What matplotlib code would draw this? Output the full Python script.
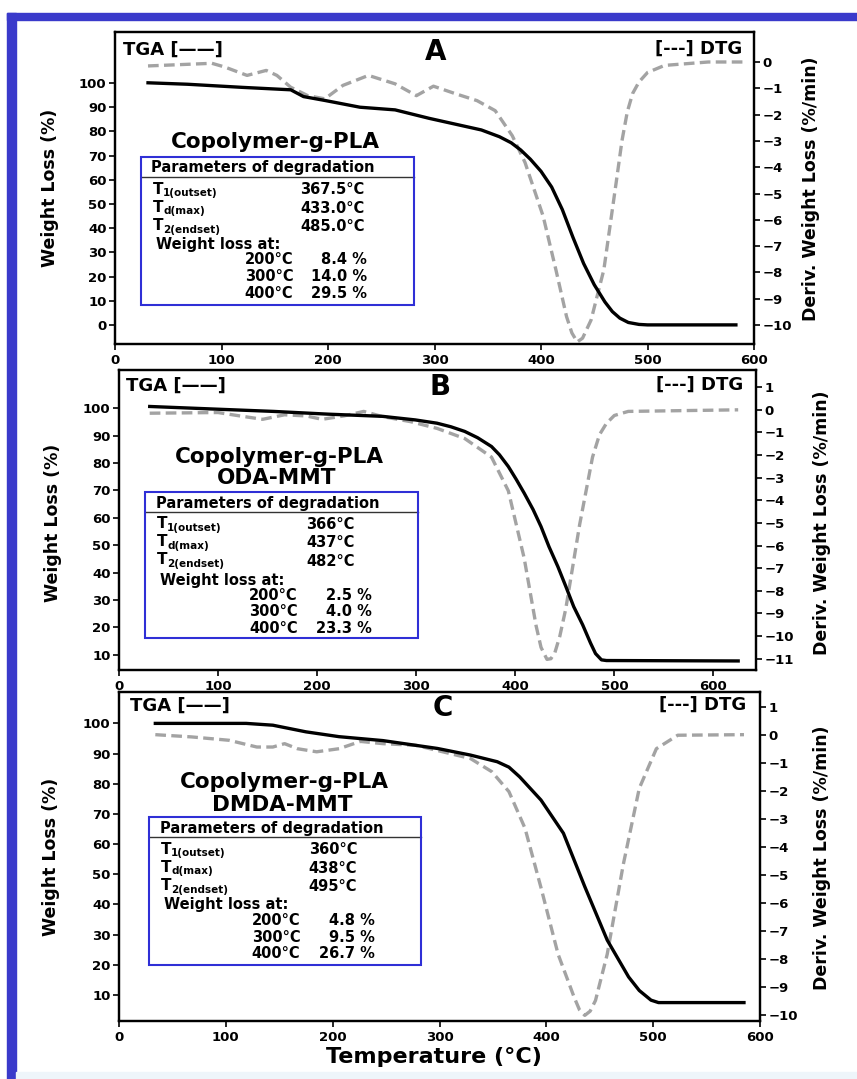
import matplotlib
matplotlib.use('Agg')
import matplotlib.pyplot as plt
from matplotlib.patches import Rectangle
from matplotlib.lines import Line2D

plt.rcParams['font.family'] = ['DejaVu Sans']
plt.rcParams['font.weight'] = 'bold'

# ---- data ----
# panel A : Copolymer-g-PLA
tga_a_t = [31, 68, 120, 165, 177, 197, 230, 263, 295, 344, 361, 372, 381, 390, 400, 410, 420, 430, 440,
           450, 460, 467, 474, 482, 492, 500, 583]
tga_a_w = [100.1, 99.5, 98.2, 97.2, 94.4, 92.8, 90.0, 88.9, 85.4, 80.6, 77.8, 75.3, 72.3, 68.5, 63.5, 57.0,
           47.7, 36.2, 25.4, 16.6, 9.5, 5.5, 2.8, 1.0, 0.2, 0.0, 0.0]
dtg_a_t = [31, 91, 103, 124, 142, 152, 165, 181, 197, 214, 238, 263, 283, 299, 320, 340, 357, 373, 385, 402,
           414, 424, 429, 434, 439, 447, 459, 471, 476, 481, 486, 492, 500, 516, 557, 590]
dtg_a_d = [-0.15, -0.05, -0.19, -0.51, -0.32, -0.51, -0.96, -1.28, -1.40, -0.89, -0.51, -0.83, -1.28, -0.92,
           -1.21, -1.47, -1.85, -2.80, -3.82, -5.86, -7.90, -9.68, -10.3, -10.64, -10.5, -9.81, -7.90, -4.46,
           -3.0, -1.90, -1.2, -0.76, -0.4, -0.13, 0.0, 0.0]

# panel B : Copolymer-g-PLA ODA-MMT
tga_b_t = [31, 100, 156, 211, 266, 299, 321, 335, 349, 362, 376, 384, 393, 401, 409, 418, 426, 434, 443,
           451, 459, 468, 476, 481, 487, 492, 625]
tga_b_w = [100.6, 99.6, 98.8, 97.8, 97.0, 95.7, 94.5, 93.2, 91.5, 89.2, 86.0, 83.0, 78.7, 74.0, 69.0, 63.0,
           56.8, 49.5, 42.2, 35.0, 27.6, 21.0, 14.3, 10.5, 8.2, 7.95, 7.8]
dtg_b_t = [31, 100, 122, 145, 167, 189, 205, 227, 247, 266, 294, 321, 349, 376, 393, 409, 421, 426, 432, 436,
           440, 445, 451, 465, 478, 485, 492, 500, 514, 625]
dtg_b_d = [-0.15, -0.12, -0.27, -0.42, -0.22, -0.27, -0.42, -0.27, -0.07, -0.30, -0.52, -0.82, -1.27, -2.09,
           -3.58, -6.56, -9.54, -10.5, -11.03, -11.0, -10.73, -10.0, -8.79, -5.07, -2.09, -1.1, -0.60, -0.25,
           -0.07, 0.0]

# panel C : Copolymer-g-PLA DMDA-MMT
tga_c_t = [34, 119, 144, 175, 206, 247, 298, 329, 354, 365, 375, 395, 416, 436, 457, 477, 487, 498, 505, 585]
tga_c_w = [100.0, 100.0, 99.4, 97.2, 95.6, 94.3, 91.7, 89.5, 87.3, 85.5, 82.3, 74.6, 63.6, 45.9, 28.2, 16.0,
           11.5, 8.3, 7.5, 7.5]
dtg_c_t = [34, 68, 103, 129, 144, 155, 167, 185, 206, 226, 247, 278, 303, 329, 349, 365, 380, 395, 411,
           426, 431, 436, 441, 446, 457, 472, 487, 503, 523, 585]
dtg_c_d = [0.0, -0.08, -0.20, -0.44, -0.44, -0.32, -0.50, -0.61, -0.50, -0.24, -0.32, -0.38, -0.61, -0.85,
           -1.32, -2.03, -3.33, -5.45, -7.82, -9.35, -9.8, -10.0, -9.85, -9.47, -7.82, -4.63, -1.91, -0.50,
           -0.02, 0.0]

letters = ['A', 'B', 'C']
titles = [['Copolymer-g-PLA'], ['Copolymer-g-PLA', 'ODA-MMT'], ['Copolymer-g-PLA', 'DMDA-MMT']]
param_subs = ['1(outset)', 'd(max)', '2(endset)']
t_outset = ['367.5°C', '366°C', '360°C']
t_dmax = ['433.0°C', '437°C', '438°C']
t_endset = ['485.0°C', '482°C', '495°C']
loss_temps = ['200°C', '300°C', '400°C']
loss_vals = [['8.4 %', '14.0 %', '29.5 %'], ['2.5 %', '4.0 %', '23.3 %'], ['4.8 %', '9.5 %', '26.7 %']]

tga_t = [tga_a_t, tga_b_t, tga_c_t]
tga_w = [tga_a_w, tga_b_w, tga_c_w]
dtg_t = [dtg_a_t, dtg_b_t, dtg_c_t]
dtg_d = [dtg_a_d, dtg_b_d, dtg_c_d]

W, H = 857, 1079
fig = plt.figure(figsize=(W / 100, H / 100), dpi=100)
fig.patch.set_facecolor('white')


def fx(x):
    return x / W


def fy(y):
    return 1 - y / H


def ftext(x, y, s, **kw):
    kw.setdefault('va', 'center')
    kw.setdefault('fontweight', 'bold')
    return fig.text(fx(x), fy(y), s, **kw)


# blue frame around the figure
blue = '#3a3acb'
fig.patches.append(Rectangle((fx(7), 0), 9 / W, fy(13), transform=fig.transFigure, color=blue, zorder=0))
fig.patches.append(Rectangle((fx(7), fy(20)), 1 - 7 / W, 7 / H, transform=fig.transFigure, color=blue, zorder=0))
fig.patches.append(Rectangle((fx(16), 0), 1, 7 / H, transform=fig.transFigure, color='#eef5fa', zorder=0))

# layout of each panel in pixels
axes_box = [(115, 32, 754, 344), (119, 370, 756, 670), (119, 692, 760, 1021)]
xlims = [(0, 600), (0, 643), (0, 600)]
ylims_l = [(-7.9, 121.1), (4.5, 113.9), (1.4, 110.4)]
ylims_r = [(-10.72, 1.14), (-11.5, 1.76), (-10.2, 1.52)]
yticks_l = [range(0, 101, 10), range(10, 101, 10), range(10, 101, 10)]
yticks_r = [range(-10, 1), range(-11, 2), range(-10, 2)]

inset_box = [(141, 157, 414, 305, 176.7), (145.4, 492.3, 418, 638.3, 511.7), (148.6, 816.7, 420.8, 965, 836.7)]
title_pos = [[(275, 141.7)], [(279, 456.7), (277, 478.3)], [(284, 781.7), (282, 805)]]
row_y = [(167.7, 190, 208.3, 226.7, 245, 260, 276.7, 293.3),
         (503.3, 525, 542.7, 561, 580, 596, 612, 628.3),
         (828.3, 850, 868.3, 886.7, 905, 920.7, 937.3, 953.3)]
col_x = [(151.4, 153, 300.5, 155.7, 293.4, 367.2),
         (155.7, 157, 306, 160, 297.8, 371.6),
         (159.6, 161, 308.7, 164, 300.5, 374.9)]
tga_lbl = [(122.7, 50), (125.7, 386), (130, 706)]
letter_pos = [(436, 51.7), (440, 387.3), (442.6, 708.3)]
dtg_lbl = [(742, 48.3), (743, 385), (746, 705)]
ylab_l = [(50.5, 188.3), (53.3, 523.3), (51.4, 856.7)]
ylab_r = [(811.5, 188.3), (822.4, 522.5), (822, 857.5)]

for i in range(3):
    l, t, r, b = axes_box[i]
    ax = fig.add_axes([fx(l), fy(b), (r - l) / W, (b - t) / H])
    ax2 = ax.twinx()
    ax.set_zorder(2)
    ax.patch.set_visible(False)

    ax2.plot(dtg_t[i], dtg_d[i], color='#a3a3a3', lw=2.4, dashes=(3.2, 1.6), solid_joinstyle='round')
    ax.plot(tga_t[i], tga_w[i], color='black', lw=2.4, solid_joinstyle='round')

    ax.set_xlim(*xlims[i])
    ax.set_ylim(*ylims_l[i])
    ax2.set_ylim(*ylims_r[i])
    ax.set_xticks(range(0, 601, 100))
    ax.set_yticks(list(yticks_l[i]))
    ax2.set_yticks(list(yticks_r[i]))
    for a in (ax, ax2):
        a.tick_params(direction='out', length=4, width=1.2, labelsize=9.5, pad=2)
        for s in a.spines.values():
            s.set_linewidth(1.6)
    ax.tick_params(axis='x', pad=3)

    ftext(*ylab_l[i], 'Weight Loss (%)', fontsize=12.5, rotation=90, ha='center')
    ftext(*ylab_r[i], 'Deriv. Weight Loss (%/min)', fontsize=12.5, rotation=90, ha='center')

    ftext(*tga_lbl[i], 'TGA [——]', fontsize=13, ha='left')
    ftext(*letter_pos[i], letters[i], fontsize=20, ha='center')
    ftext(*dtg_lbl[i], '[---] DTG', fontsize=13, ha='right')

    for (x, y), s in zip(title_pos[i], titles[i]):
        ftext(x, y, s, fontsize=15.5, ha='center')

    bl, bt, br, bb, sep = inset_box[i]
    fig.patches.append(Rectangle((fx(bl), fy(bb)), (br - bl) / W, (bb - bt) / H, transform=fig.transFigure,
                                 fill=False, edgecolor='#2f2fd6', lw=1.5, zorder=5))
    fig.lines.append(Line2D([fx(bl), fx(br)], [fy(sep), fy(sep)], transform=fig.transFigure,
                            color='#333333', lw=1.0, zorder=5))

    ry = row_y[i]
    hx, tx, vx, wx, lx, rx = col_x[i]
    ftext(hx, ry[0], 'Parameters of degradation', fontsize=10.5, ha='left')
    for k, val in enumerate([t_outset[i], t_dmax[i], t_endset[i]]):
        ftext(tx, ry[1 + k] - 1, 'T', fontsize=11, ha='left')
        ftext(tx + 10, ry[1 + k] + 3, param_subs[k], fontsize=7.5, ha='left')
        ftext(vx, ry[1 + k], val, fontsize=10.5, ha='left')
    ftext(wx, ry[4], 'Weight loss at:', fontsize=10.5, ha='left')
    for k in range(3):
        ftext(lx, ry[5 + k], loss_temps[k], fontsize=10.5, ha='right')
        ftext(rx, ry[5 + k], loss_vals[i][k], fontsize=10.5, ha='right')

ftext(434, 1057, 'Temperature (°C)', fontsize=16, ha='center')

fig.savefig('out.png', dpi=100)
